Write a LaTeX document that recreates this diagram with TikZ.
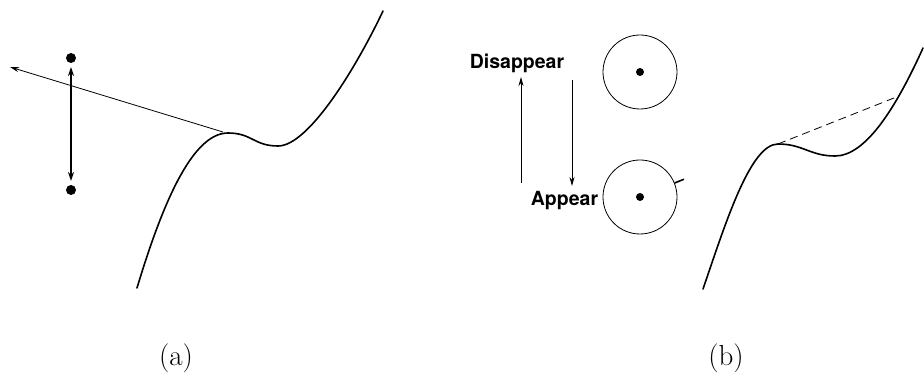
\documentclass[tikz,border=0pt]{standalone}
\usepackage{fontspec}
\newfontfamily\labelfont{TeX Gyre Heros}
\usetikzlibrary{arrows.meta}
\tikzset{
  curveline/.style={line width=1.6pt, line cap=round, line join=round},
  thinarrow/.style={line width=0.8pt, -{Stealth[length=9pt,width=5pt]}},
  dblarrow/.style={line width=1.5pt, {Stealth[length=9pt,width=6pt]}-{Stealth[length=9pt,width=6pt]}},
  dotnode/.style={circle, fill=black, inner sep=0pt, minimum size=10pt},
  smalldot/.style={circle, fill=black, inner sep=0pt, minimum size=8pt},
  ring/.style={circle, draw, line width=0.8pt, inner sep=0pt, minimum size=74pt},
  wordlabel/.style={font=\labelfont\bfseries\fontsize{19.5}{21}\selectfont, inner sep=0pt, anchor=base},
  panellabel/.style={font=\fontsize{29}{31}\selectfont, inner sep=0pt, anchor=base},
}
\begin{document}
\begin{tikzpicture}[x=1pt,y=-1pt]
\useasboundingbox (0,0) rectangle (924,379);
% panel (a)
\coordinate (pa0) at (137,288);
\coordinate (pa1) at (228,133);
\coordinate (pa2) at (278,146);
\coordinate (pa3) at (383,11);
\draw[curveline] (pa0) .. controls (162,205) and (192,133) .. (pa1)
  .. controls (252,133) and (254,146) .. (pa2)
  .. controls (308,146) and (355,70) .. (pa3);
\coordinate (tang) at (223,132);
\coordinate (tip) at (10,67);
\draw[thinarrow] (tang) -- (tip);
\node[dotnode] (d1) at (71,58) {};
\node[dotnode] (d2) at (71,190) {};
\coordinate (a1) at (71,67);
\coordinate (a2) at (71,181);
\draw[dblarrow] (a1) -- (a2);
\node[panellabel] (la) at (176,366) {(a)};
% panel (b)
\coordinate (pb0) at (703,289);
\coordinate (pb1) at (778,144);
\coordinate (pb2) at (835,156);
\coordinate (pb3) at (923,48);
\draw[curveline] (pb0) .. controls (725,225) and (750,144) .. (pb1)
  .. controls (803,144) and (810,156) .. (pb2)
  .. controls (865,156) and (895,110) .. (pb3);
\coordinate (b1) at (778,144);
\coordinate (b2) at (899,96);
\draw[line width=0.8pt, dash pattern=on 8pt off 5pt] (b1) -- (b2);
\node[wordlabel] (dis) at (517,69) {Disappear};
\node[wordlabel] (app) at (564.5,206) {Appear};
\coordinate (u1) at (521,183);
\coordinate (u2) at (521,77);
\coordinate (v1) at (572,80);
\coordinate (v2) at (572,186);
\draw[thinarrow] (u1) -- (u2);
\draw[thinarrow] (v1) -- (v2);
\node[ring] (c1) at (640,72) {};
\node[smalldot] (c1d) at (640,72) {};
\node[ring] (c2) at (640,197) {};
\node[smalldot] (c2d) at (640,197) {};
\draw[line width=1.6pt] (c2.22) -- ++(22:10pt);
\node[panellabel] (lb) at (726,366) {(b)};
\end{tikzpicture}
\end{document}
